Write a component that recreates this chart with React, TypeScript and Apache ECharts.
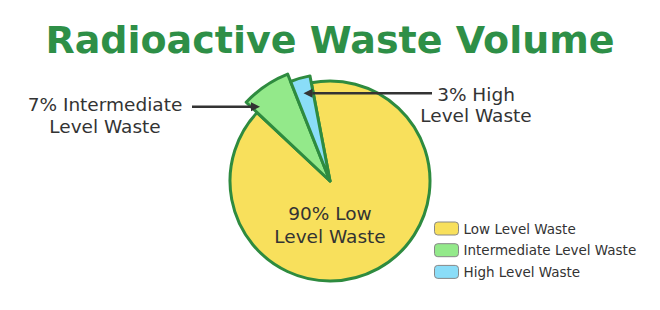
import React, { useEffect, useRef } from 'react';
import * as echarts from 'echarts';

const titleText = 'Radioactive Waste Volume';
const categories = ['Low Level Waste', 'Intermediate Level Waste', 'High Level Waste'];
const shares = [90, 7, 3];
const labelHeads = ['Low', 'Intermediate', 'High'];
const labelTails = ['Level Waste', 'Level Waste', 'Level Waste'];

const COLORS = ['#F8E05C', '#93E98A', '#8ADDF8'];
const BORDER = '#2E8B3F';
const RADII = [100, 115, 107];
const TEXT = '#333333';
const FONT = '"DejaVu Sans", sans-serif';

export default function App() {
  const ref = useRef<HTMLDivElement>(null);
  useEffect(() => {
    document.body.style.margin = '0';
    const chart = echarts.init(ref.current!, null, { renderer: 'svg' });
    const series = categories.map((_, k) => ({
      type: 'pie',
      center: [330, 181],
      radius: [0, RADII[k]],
      startAngle: 100.8,
      clockwise: true,
      silent: true,
      z: 2 + k,
      label: { show: false },
      labelLine: { show: false },
      emphasis: { disabled: true },
      data: categories.map((name, i) => ({
        name,
        value: shares[i],
        itemStyle:
          i === k
            ? { color: COLORS[i], borderColor: BORDER, borderWidth: 3, borderJoin: 'round' }
            : { color: 'rgba(0,0,0,0)', borderWidth: 0 },
      })),
    }));
    const line = (text: string, x: number, y: number) => ({
      type: 'text',
      x,
      y,
      z: 20,
      style: {
        text,
        fill: TEXT,
        fontFamily: FONT,
        fontWeight: 'normal',
        fontSize: 18.5,
        align: 'center',
        verticalAlign: 'middle',
      },
    });
    const label = (i: number, x: number, y1: number, y2: number) => [
      line(`${shares[i]}% ${labelHeads[i]}`, x, y1),
      line(labelTails[i], x, y2),
    ];
    const arrow = (x1: number, x2: number, y: number) => {
      const dir = x2 > x1 ? 1 : -1;
      const base = x2 - dir * 9;
      return [
        { type: 'line', z: 20, shape: { x1, y1: y, x2: base, y2: y }, style: { stroke: TEXT, lineWidth: 2.5 } },
        {
          type: 'polygon',
          z: 20,
          shape: { points: [[x2, y], [base, y - 4.5], [base, y + 4.5]] },
          style: { fill: TEXT },
        },
      ];
    };
    chart.setOption({
      animation: false,
      title: {
        text: titleText,
        left: 'center',
        top: 16,
        textStyle: { color: '#2E8F47', fontSize: 38, fontWeight: 'bold', fontFamily: FONT },
      },
      legend: {
        orient: 'vertical',
        left: 434,
        top: 221.5,
        padding: 0,
        itemWidth: 24,
        itemHeight: 13,
        itemGap: 7.7,
        icon: 'roundRect',
        selectedMode: false,
        textStyle: { color: TEXT, fontSize: 13.5, lineHeight: 13, fontFamily: FONT },
        data: categories.map((name, i) => ({
          name,
          itemStyle: { color: COLORS[i], borderColor: '#888888', borderWidth: 1 },
        })),
      },
      series,
      graphic: [
        ...label(0, 330, 213.7, 236),
        ...label(1, 105, 104.7, 126.7),
        ...label(2, 476, 94.7, 115),
        ...arrow(192, 260, 106.7),
        ...arrow(432, 303.5, 93.3),
      ],
    });
    return () => chart.dispose();
  }, []);
  return <div ref={ref} style={{ width: 660, height: 310 }} />;
}
